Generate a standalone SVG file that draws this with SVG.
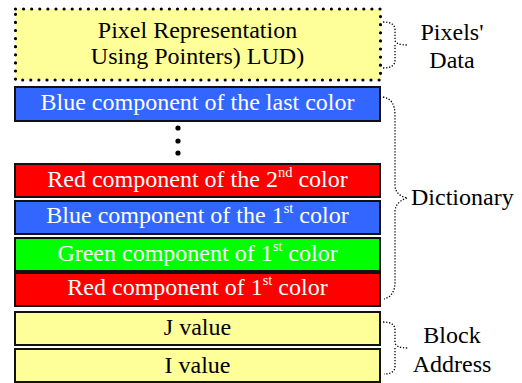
<svg xmlns="http://www.w3.org/2000/svg" width="522" height="383" viewBox="0 0 522 383">
  <style>
    .box { stroke: #111; stroke-width: 2; }
    .yellow { fill: #FFFF99; }
    .blue { fill: #3366FF; }
    .red { fill: #FF0000; }
    .green { fill: #00FF00; }
    .dotted { fill: #FFFF99; stroke: #000; stroke-width: 3.2; stroke-dasharray: 0 8.1; stroke-linecap: round; }
    text { font-family: "Liberation Serif", "Times New Roman", serif; font-size: 24px; text-anchor: middle; }
    .w { fill: #fff; }
    .k { fill: #000; }
    .lbl { fill: #000; }
    text.start { text-anchor: start; }
    .brace { fill: none; stroke: #000; stroke-width: 1.3; stroke-dasharray: 1.3 1.7; }
    .sup { font-size: 14.5px; }
  </style>
  <rect width="522" height="383" fill="#fff"/>

  <g id="pixel-data">
    <rect class="dotted" x="15.5" y="9" width="365" height="71"/>
    <text class="k" x="197.5" y="38">Pixel Representation</text>
    <text class="k" x="197.5" y="64">Using Pointers) LUD)</text>
  </g>

  <g id="blue-last">
    <rect class="box blue" x="15" y="87" width="365" height="34"/>
    <text class="w" x="197.5" y="110">Blue component of the last color</text>
  </g>

  <g id="ellipsis">
    <circle cx="178" cy="128" r="2.6"/>
    <circle cx="178" cy="141" r="2.6"/>
    <circle cx="178" cy="153" r="2.6"/>
  </g>

  <g id="red-2nd">
    <rect class="box red" x="15" y="164" width="365" height="33"/>
    <text class="w" x="197.5" y="187">Red component of the 2<tspan class="sup" dy="-10">nd</tspan><tspan dy="10"> color</tspan></text>
  </g>

  <g id="blue-1st">
    <rect class="box blue" x="15" y="201" width="365" height="33"/>
    <text class="w" x="197.5" y="223">Blue component of the 1<tspan class="sup" dy="-10">st</tspan><tspan dy="10"> color</tspan></text>
  </g>

  <g id="green-1st">
    <rect class="box green" x="15" y="238" width="365" height="33"/>
    <text class="w" x="197.5" y="261">Green component of 1<tspan class="sup" dy="-10">st</tspan><tspan dy="10"> color</tspan></text>
  </g>

  <g id="red-1st">
    <rect class="box red" x="15" y="273" width="365" height="33"/>
    <text class="w" x="197.5" y="295">Red component of 1<tspan class="sup" dy="-10">st</tspan><tspan dy="10"> color</tspan></text>
  </g>

  <g id="j-value">
    <rect class="box yellow" x="15" y="312" width="365" height="33"/>
    <text class="k" x="197.5" y="335">J value</text>
  </g>

  <g id="i-value">
    <rect class="box yellow" x="15" y="349" width="365" height="33"/>
    <text class="k" x="197.5" y="373">I value</text>
  </g>

  <g id="connectors">
    <path class="brace" d="M383,22 Q395,22 395,30 L395,40 Q395,45 408,45 M395,45 Q395,48 395,52 L395,60 Q395,68 383,68"/>
    <path class="brace" d="M383,97 Q395,99 395,115 L395,185 Q395,195 407,198 M407,198 Q395,202 395,212 L395,282 Q395,296 384,299"/>
    <path class="brace" d="M383,322 Q395,322 395,330 L395,342 Q395,348 408,348 M395,348 Q395,352 395,356 L395,366 Q395,374 384,374"/>
  </g>

  <g id="labels">
    <text class="lbl" x="452" y="40">Pixels'</text>
    <text class="lbl" x="452" y="68">Data</text>
    <text class="lbl start" x="411" y="205">Dictionary</text>
    <text class="lbl" x="452" y="343">Block</text>
    <text class="lbl" x="452" y="372">Address</text>
  </g>
</svg>
